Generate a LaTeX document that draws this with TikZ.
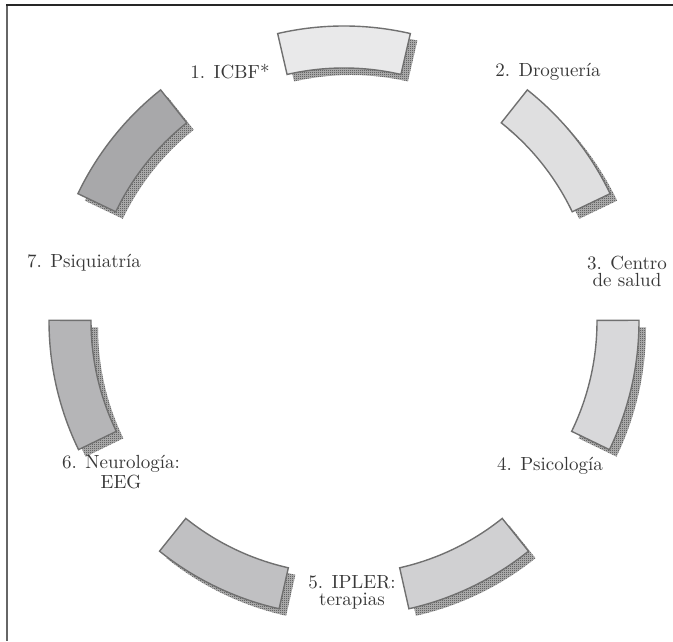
\documentclass[tikz,border=0pt]{standalone}
\usetikzlibrary{patterns}

% fine checker used for the drop shadows
\pgfdeclarepatternformonly{checkdots}{\pgfqpoint{0pt}{0pt}}{\pgfqpoint{1pt}{1pt}}{\pgfqpoint{1pt}{1pt}}{%
  \pgfpathrectangle{\pgfqpoint{0pt}{0pt}}{\pgfqpoint{0.5pt}{0.5pt}}%
  \pgfpathrectangle{\pgfqpoint{0.5pt}{0.5pt}}{\pgfqpoint{0.5pt}{0.5pt}}%
  \pgfusepath{fill}}

\definecolor{seg1}{HTML}{E9E9EA}
\definecolor{seg2}{HTML}{DFDFE0}
\definecolor{seg3}{HTML}{D8D8DA}
\definecolor{seg4}{HTML}{D0D0D2}
\definecolor{seg5}{HTML}{C0C0C2}
\definecolor{seg6}{HTML}{B5B5B7}
\definecolor{seg7}{HTML}{A8A8AA}
\definecolor{segline}{HTML}{707070}
\definecolor{shadowgray}{HTML}{3A3A3A}

\tikzset{
  ringseg/.style={draw=segline, line width=0.7pt},
  segshadow/.style={fill=black!28, postaction={pattern=checkdots, pattern color=shadowgray}},
  lbl/.style={font=\fontsize{9.5}{8.5}\selectfont, text=black!78, align=center, inner sep=0pt},
}

\begin{document}
\begin{tikzpicture}[x=0.5pt,y=0.5pt]
\useasboundingbox (0,0) rectangle (673,641);

% frame
\draw[black!60, line width=1pt] (7,636) -- (7,0);
\draw[black!85, line width=1pt] (6,636) -- (673,636);

% ring segments, clockwise from the top
\begin{scope}[shift={(344,320)}]
\foreach \i/\a in {1/90,2/38.57,3/-12.86,4/-64.29,5/-115.71,6/-167.14,7/141.43}{
  \pgfmathsetmacro\sa{\a+13}
  \pgfmathsetmacro\ea{\a-13}
  \fill[segshadow,shift={(7,-7)}] (\sa:295) arc[start angle=\sa, end angle=\ea, radius=295]
    -- (\ea:253) arc[start angle=\ea, end angle=\sa, radius=253] -- cycle;
  \draw[ringseg,fill=seg\i] (\sa:295) arc[start angle=\sa, end angle=\ea, radius=295]
    -- (\ea:253) arc[start angle=\ea, end angle=\sa, radius=253] -- cycle;
}
\end{scope}

% labels
\node[lbl] (l1) at (230,569) {1. ICBF*};
\node[lbl] (l2) at (548,569) {2. Droguería};
\node[lbl] (l3) at (627,370) {3. Centro\\de salud};
\node[lbl] (l4) at (550,175) {4. Psicología};
\node[lbl] (l5) at (352,49) {5. IPLER:\\terapias};
\node[lbl] (l6) at (121,169) {6. Neurología:\\EEG};
\node[lbl] (l7) at (84,378) {7. Psiquiatría};
\end{tikzpicture}
\end{document}
